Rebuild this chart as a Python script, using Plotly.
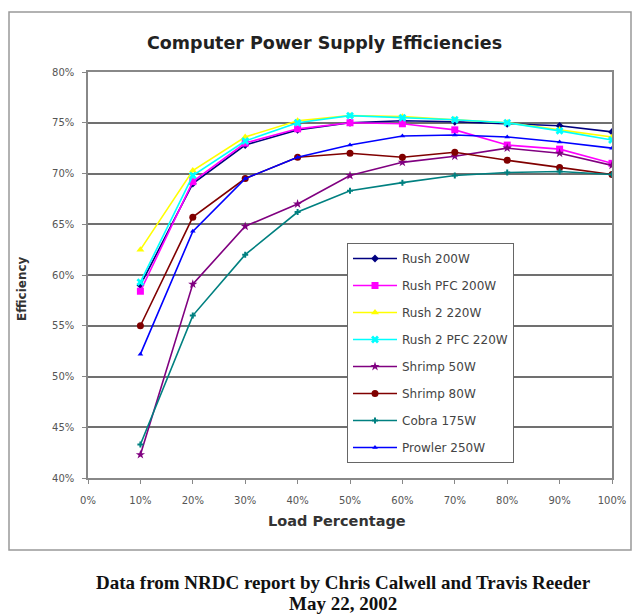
import plotly.graph_objects as go

load = [10, 20, 30, 40, 50, 60, 70, 80, 90, 100]

rush_200 = [59.0, 69.0, 72.8, 74.3, 75.0, 75.2, 75.1, 74.9, 74.7, 74.1]
rush_pfc_200 = [58.4, 69.2, 73.0, 74.4, 75.0, 74.9, 74.3, 72.8, 72.4, 71.0]
rush2_220 = [62.5, 70.3, 73.6, 75.2, 75.7, 75.6, 75.3, 75.0, 74.3, 73.6]
rush2_pfc_220 = [59.3, 69.8, 73.2, 75.0, 75.7, 75.5, 75.3, 75.0, 74.2, 73.3]
shrimp_50 = [42.3, 59.1, 64.8, 67.0, 69.8, 71.1, 71.7, 72.5, 72.0, 70.8]
shrimp_80 = [55.0, 65.7, 69.5, 71.6, 72.0, 71.6, 72.1, 71.3, 70.6, 69.9]
cobra_175 = [43.3, 56.0, 62.0, 66.2, 68.3, 69.1, 69.8, 70.1, 70.2, 69.9]
prowler_250 = [52.2, 64.3, 69.5, 71.6, 72.8, 73.7, 73.8, 73.6, 73.1, 72.5]

series_names = ["Rush 200W", "Rush PFC 200W", "Rush 2 220W", "Rush 2 PFC 220W",
                "Shrimp 50W", "Shrimp 80W", "Cobra 175W", "Prowler 250W"]
series_values = [rush_200, rush_pfc_200, rush2_220, rush2_pfc_220,
                 shrimp_50, shrimp_80, cobra_175, prowler_250]
colors = ["#000080", "#FF00FF", "#FFFF00", "#00FFFF",
          "#800080", "#800000", "#008080", "#0000FF"]
symbols = ["diamond", "square", "triangle-up", "x",
           "star", "circle", "cross", "triangle-up"]
sizes = [6, 7, 7, 7, 7, 7, 5, 5]

x_ticks = [0, 10, 20, 30, 40, 50, 60, 70, 80, 90, 100]
y_ticks = [40, 45, 50, 55, 60, 65, 70, 75, 80]

# page has an 8px body margin; plot area on screen spans x 88..612, y 72..478
W, H = 634, 607
L, T, R, B = 80, 64, 30, 137


def px(sx):
    return (sx - 88) / 524


def py(sy):
    return (478 - sy) / 406


SANS = "DejaVu Sans, Verdana, sans-serif"
SERIF = "Liberation Serif, Times New Roman, serif"

fig = go.Figure()
for i, (name, vals, c, s, sz) in enumerate(zip(series_names, series_values, colors, symbols, sizes)):
    fig.add_trace(go.Scatter(
        x=load, y=vals, name=name, mode="lines+markers",
        line=dict(color=c, width=1.6),
        marker=dict(color=c, symbol=s, size=sz, line=dict(width=0)),
        legendgroup=f"g{i}",
    ))

fig.update_layout(
    width=W, height=H,
    margin=dict(l=L, r=R, t=T, b=B, autoexpand=False),
    paper_bgcolor="white", plot_bgcolor="white",
    showlegend=True,
    legend=dict(
        x=px(347), y=py(243), xanchor="left", yanchor="top",
        bgcolor="white", bordercolor="#666", borderwidth=1,
        font=dict(family=SANS, size=12, color="#444"),
        traceorder="grouped", tracegroupgap=8,
        itemwidth=44,
    ),
    font=dict(family=SANS, size=10, color="#555"),
)

fig.update_xaxes(
    range=[0, 100], tickvals=x_ticks, ticktext=[f"{v}%" for v in x_ticks],
    showgrid=False, zeroline=False, automargin=False,
    showline=True, linecolor="#888", linewidth=1.5, mirror=True,
    ticks="outside", ticklen=4, tickcolor="#888", ticklabelstandoff=8,
)
fig.update_yaxes(
    range=[40, 80], tickvals=y_ticks, ticktext=[f"{v}%" for v in y_ticks],
    showgrid=True, gridcolor="#707070", gridwidth=1.6, zeroline=False, automargin=False,
    showline=True, linecolor="#888", linewidth=1.5, mirror=True,
    ticks="outside", ticklen=4, tickcolor="#888", ticklabelstandoff=6,
)

# outer chart frame
fig.add_shape(type="rect", xref="paper", yref="paper",
              x0=px(9), x1=px(631), y0=py(550), y1=py(12),
              line=dict(color="#999", width=1.5), fillcolor="rgba(0,0,0,0)", layer="below")


def note(text, sx, sy, size, family=SANS, color="#333", angle=0):
    fig.add_annotation(text=text, xref="paper", yref="paper", x=px(sx), y=py(sy),
                       xanchor="center", yanchor="middle", showarrow=False, textangle=angle,
                       font=dict(family=family, size=size, color=color))


# chart title and axis titles
note("<b>Computer Power Supply Efficiencies</b>", 324, 43, 17.5, color="#222")
note("<b>Load Percentage</b>", 337, 521, 14.5)
note("<b>Efficiency</b>", 22, 289, 12, angle=-90)

# caption
note("<b>Data from NRDC report by Chris Calwell and Travis Reeder</b>", 343, 582, 19, SERIF, "#111")
note("<b>May 22, 2002</b>", 343, 603, 19, SERIF, "#111")

fig.write_html("out.html")
